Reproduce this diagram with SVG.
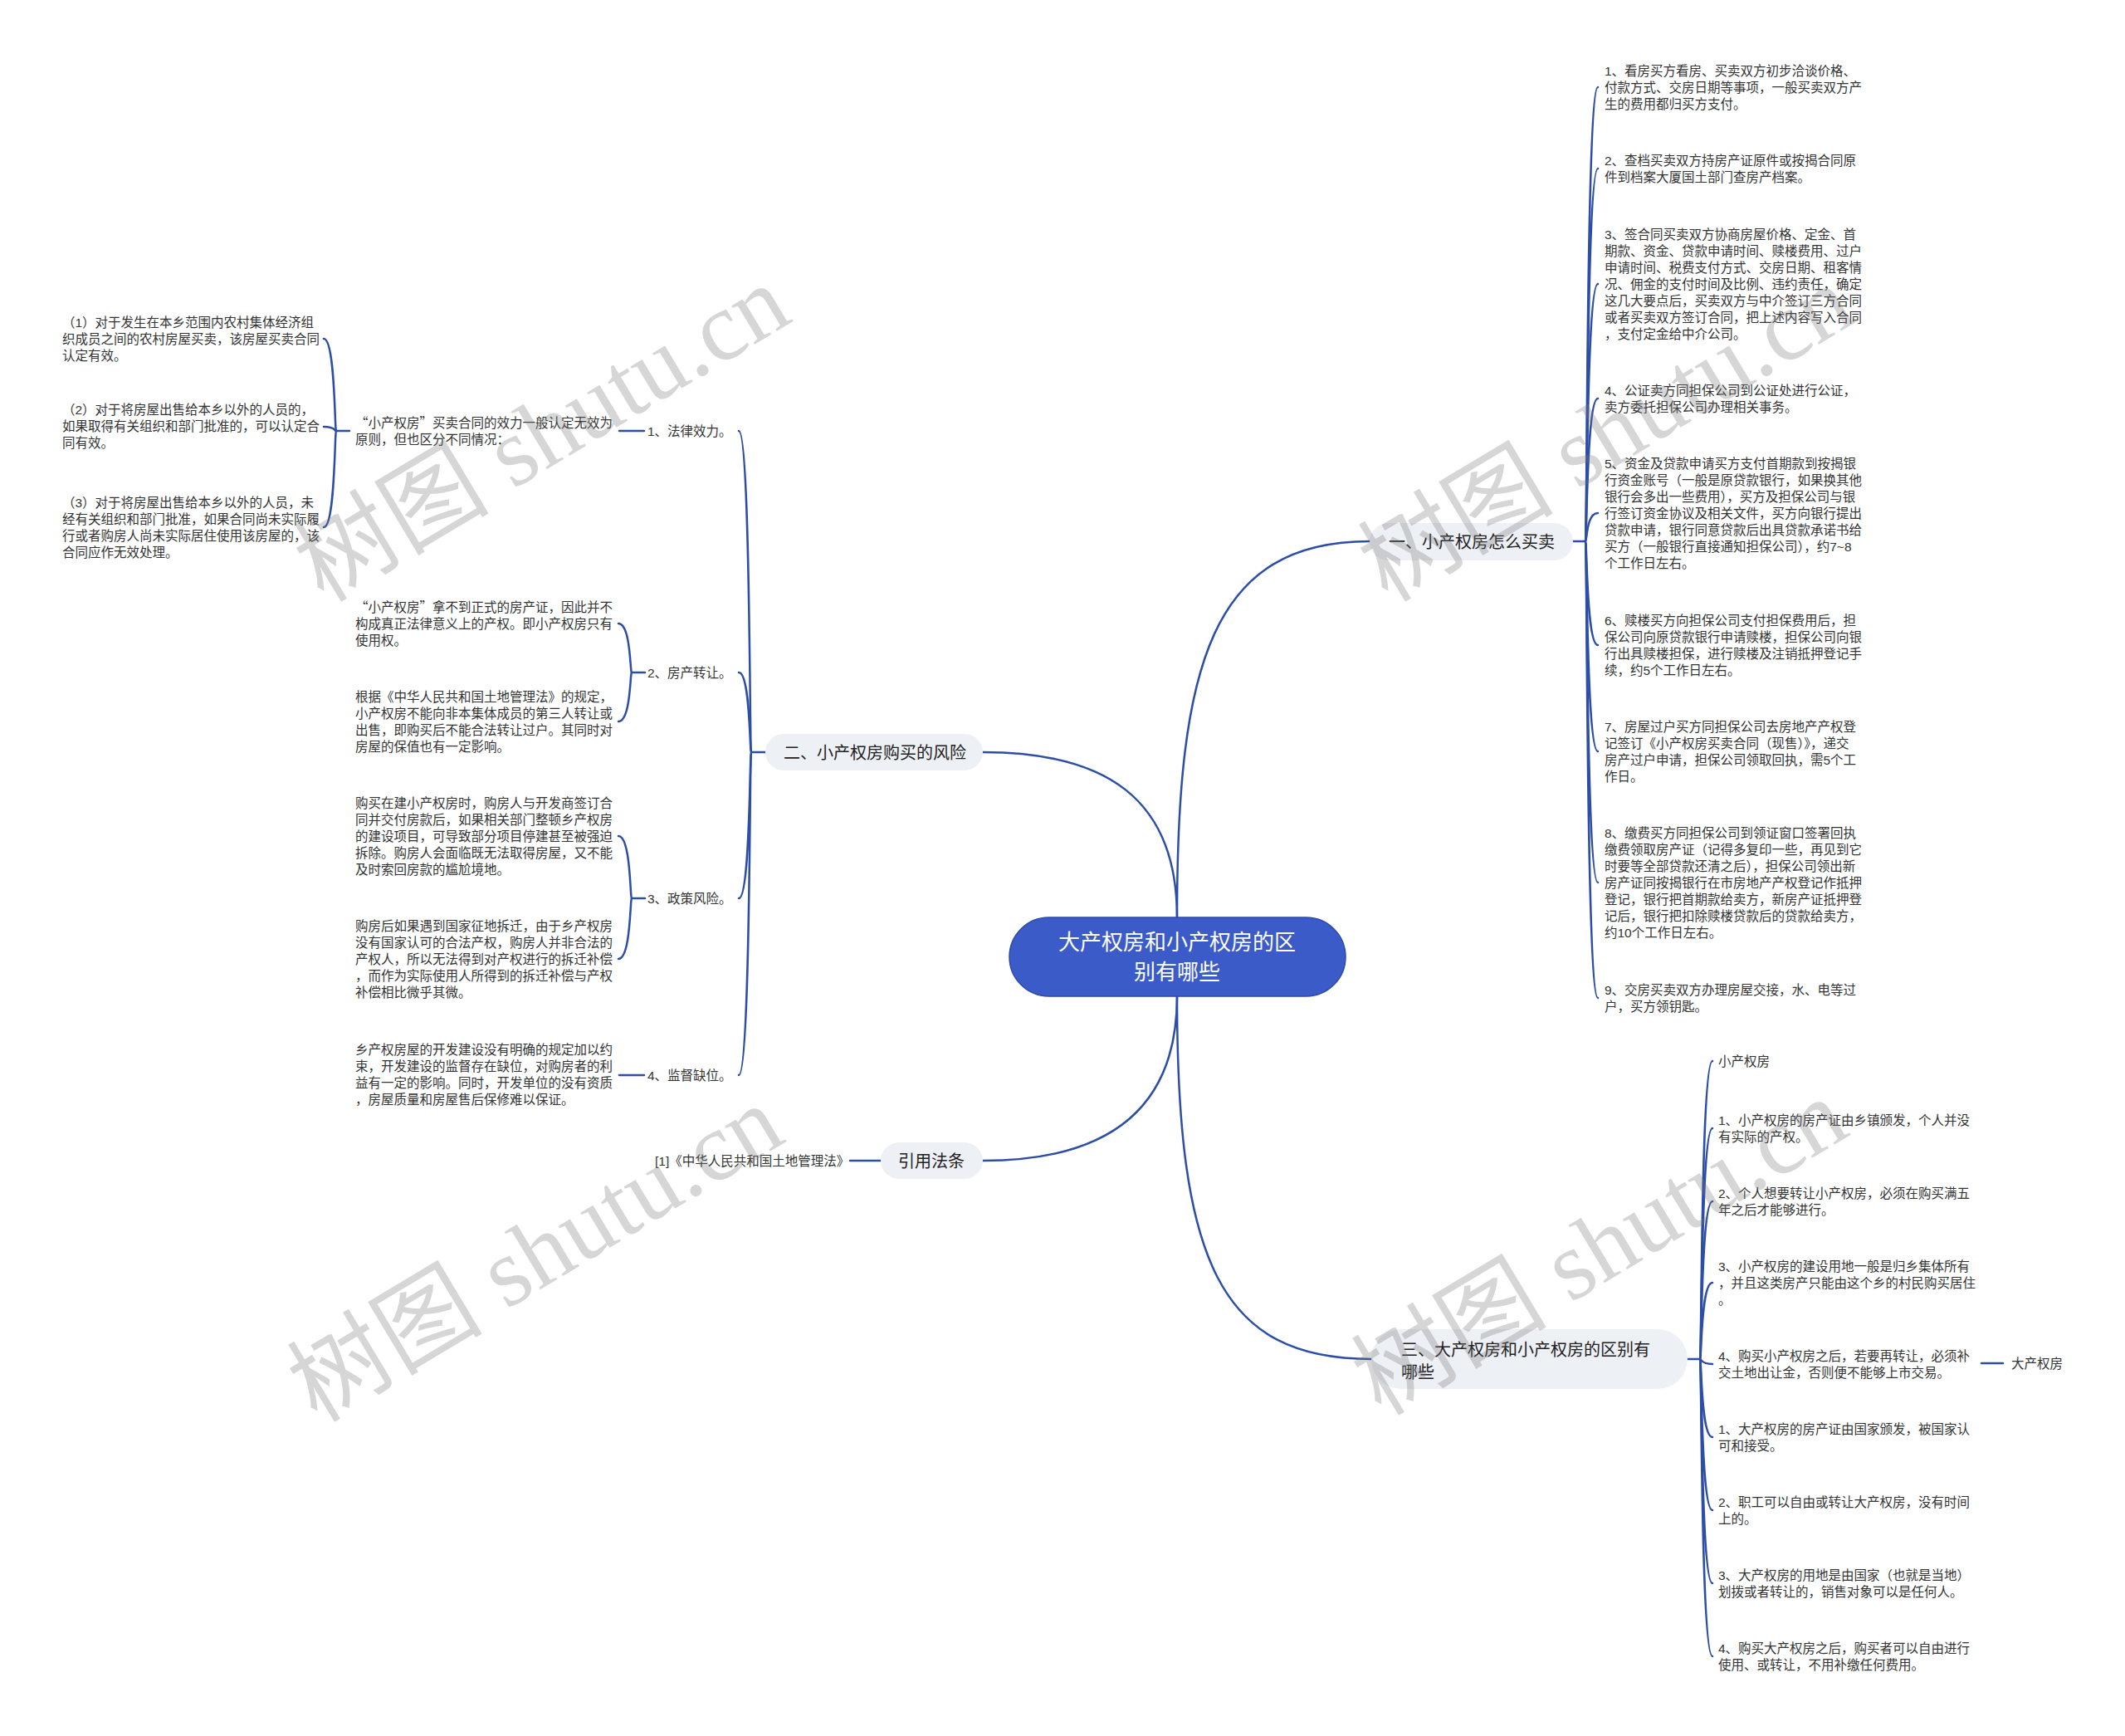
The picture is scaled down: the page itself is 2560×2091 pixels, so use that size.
<svg xmlns="http://www.w3.org/2000/svg" width="2560" height="2091" viewBox="0 0 2560 2091">
<style>
.t{font-family:"Liberation Sans","Noto Sans CJK SC",sans-serif;font-size:15.5px;fill:#333}
.q{font-family:"Noto Sans CJK SC",sans-serif}
.b{font-family:"Liberation Sans","Noto Sans CJK SC",sans-serif;font-size:20px;fill:#222}
.c{font-family:"Liberation Sans","Noto Sans CJK SC",sans-serif;font-size:26px;fill:#fff}
.pill{fill:#edf0f5}
.ln{fill:none;stroke:#2d4ea6;stroke-width:2.5;stroke-linecap:round}
.wm{font-family:"Liberation Serif","Noto Sans CJK SC",serif;font-size:118px;fill:#777;fill-opacity:0.3}
</style>
<rect width="2560" height="2091" fill="#fff"/>
<g id="connectors" class="ln">
<path d="M1418,1105 C1418,800 1460,652 1650,652"/>
<path d="M1418,1105 C1418,960 1330,906 1184,906"/>
<path d="M1418,1200 C1418,1340 1330,1398 1184,1398"/>
<path d="M1418,1200 C1418,1520 1470,1637 1652,1637"/>
<path d="M1895,652 H1910"/>
<path d="M1910,652 C1912,652 1911,105 1925,105"/>
<path d="M1910,652 C1912,652 1911,203 1925,203"/>
<path d="M1910,652 C1912,652 1911,342 1925,342"/>
<path d="M1910,652 C1912,652 1911,480 1925,480"/>
<path d="M1910,652 C1912,652 1911,618 1925,618"/>
<path d="M1910,652 C1912,652 1911,777 1925,777"/>
<path d="M1910,652 C1912,652 1911,905 1925,905"/>
<path d="M1910,652 C1912,652 1911,1063 1925,1063"/>
<path d="M1910,652 C1912,652 1911,1202 1925,1202"/>
<path d="M922,906 H905"/>
<path d="M905,906 C903,906 904,519 890,519"/>
<path d="M905,906 C903,906 904,810 890,810"/>
<path d="M905,906 C903,906 904,1082 890,1082"/>
<path d="M905,906 C903,906 904,1295 890,1295"/>
<path d="M1061,1398 H1024"/>
<path d="M2033,1637 H2048"/>
<path d="M2048,1637 C2050,1637 2049,1278 2063,1278"/>
<path d="M2048,1637 C2050,1637 2049,1359 2063,1359"/>
<path d="M2048,1637 C2050,1637 2049,1447 2063,1447"/>
<path d="M2048,1637 C2050,1637 2049,1545 2063,1545"/>
<path d="M2048,1637 C2050,1637 2049,1643 2063,1643"/>
<path d="M2048,1637 C2050,1637 2049,1731 2063,1731"/>
<path d="M2048,1637 C2050,1637 2049,1819 2063,1819"/>
<path d="M2048,1637 C2050,1637 2049,1907 2063,1907"/>
<path d="M2048,1637 C2050,1637 2049,1995 2063,1995"/>
<path d="M2387,1642 H2413"/>
<path d="M776,519 H746"/>
<path d="M777,810 H761"/>
<path d="M761,810 C759,810 760,751 745,751"/>
<path d="M761,810 C759,810 760,869 745,869"/>
<path d="M777,1082 H761"/>
<path d="M761,1082 C759,1082 760,1007 745,1007"/>
<path d="M761,1082 C759,1082 760,1155 745,1155"/>
<path d="M776,1295 H746"/>
<path d="M421,519 H405"/>
<path d="M405,519 C403,519 404,408 390,408"/>
<path d="M405,519 C403,519 404,514 390,514"/>
<path d="M405,519 C403,519 404,635 390,635"/>
</g>
<g id="root">
<rect x="1216" y="1105" width="405" height="95" rx="47.5" fill="#3b5bc8" stroke="#2e4aa8" stroke-width="1.5"/>
<text class="c" text-anchor="middle"><tspan x="1418" y="1144">大产权房和小产权房的区</tspan><tspan x="1418" y="1180">别有哪些</tspan></text>
</g>
<g id="b1">
<rect class="pill" x="1650" y="630" width="245" height="45" rx="22.5"/>
<text class="b" x="1673" y="659.5">一、小产权房怎么买卖</text>
</g>
<g id="b1-1"><text class="t"><tspan x="1933" y="91">1、看房买方看房、买卖双方初步洽谈价格、</tspan><tspan x="1933" y="111">付款方式、交房日期等事项，一般买卖双方产</tspan><tspan x="1933" y="131">生的费用都归买方支付。</tspan></text></g>
<g id="b1-2"><text class="t"><tspan x="1933" y="199">2、查档买卖双方持房产证原件或按揭合同原</tspan><tspan x="1933" y="219">件到档案大厦国土部门查房产档案。</tspan></text></g>
<g id="b1-3"><text class="t"><tspan x="1933" y="288">3、签合同买卖双方协商房屋价格、定金、首</tspan><tspan x="1933" y="308">期款、资金、贷款申请时间、赎楼费用、过户</tspan><tspan x="1933" y="328">申请时间、税费支付方式、交房日期、租客情</tspan><tspan x="1933" y="348">况、佣金的支付时间及比例、违约责任，确定</tspan><tspan x="1933" y="368">这几大要点后，买卖双方与中介签订三方合同</tspan><tspan x="1933" y="388">或者买卖双方签订合同，把上述内容写入合同</tspan><tspan x="1933" y="408">，支付定金给中介公司。</tspan></text></g>
<g id="b1-4"><text class="t"><tspan x="1933" y="476">4、公证卖方同担保公司到公证处进行公证，</tspan><tspan x="1933" y="496">卖方委托担保公司办理相关事务。</tspan></text></g>
<g id="b1-5"><text class="t"><tspan x="1933" y="564">5、资金及贷款申请买方支付首期款到按揭银</tspan><tspan x="1933" y="584">行资金账号（一般是原贷款银行，如果换其他</tspan><tspan x="1933" y="604">银行会多出一些费用），买方及担保公司与银</tspan><tspan x="1933" y="624">行签订资金协议及相关文件，买方向银行提出</tspan><tspan x="1933" y="644">贷款申请，银行同意贷款后出具贷款承诺书给</tspan><tspan x="1933" y="664">买方（一般银行直接通知担保公司），约7~8</tspan><tspan x="1933" y="684">个工作日左右。</tspan></text></g>
<g id="b1-6"><text class="t"><tspan x="1933" y="753">6、赎楼买方向担保公司支付担保费用后，担</tspan><tspan x="1933" y="773">保公司向原贷款银行申请赎楼，担保公司向银</tspan><tspan x="1933" y="793">行出具赎楼担保，进行赎楼及注销抵押登记手</tspan><tspan x="1933" y="813">续，约5个工作日左右。</tspan></text></g>
<g id="b1-7"><text class="t"><tspan x="1933" y="881">7、房屋过户买方同担保公司去房地产产权登</tspan><tspan x="1933" y="901">记签订《小产权房买卖合同（现售）》，递交</tspan><tspan x="1933" y="921">房产过户申请，担保公司领取回执，需5个工</tspan><tspan x="1933" y="941">作日。</tspan></text></g>
<g id="b1-8"><text class="t"><tspan x="1933" y="1009">8、缴费买方同担保公司到领证窗口签署回执</tspan><tspan x="1933" y="1029">缴费领取房产证（记得多复印一些，再见到它</tspan><tspan x="1933" y="1049">时要等全部贷款还清之后），担保公司领出新</tspan><tspan x="1933" y="1069">房产证同按揭银行在市房地产产权登记作抵押</tspan><tspan x="1933" y="1089">登记，银行把首期款给卖方，新房产证抵押登</tspan><tspan x="1933" y="1109">记后，银行把扣除赎楼贷款后的贷款给卖方，</tspan><tspan x="1933" y="1129">约10个工作日左右。</tspan></text></g>
<g id="b1-9"><text class="t"><tspan x="1933" y="1198">9、交房买卖双方办理房屋交接，水、电等过</tspan><tspan x="1933" y="1218">户，买方领钥匙。</tspan></text></g>
<g id="b2">
<rect class="pill" x="922" y="884" width="262" height="44" rx="22"/>
<text class="b" x="944" y="913.5">二、小产权房购买的风险</text>
</g>
<g id="b2-1"><text class="t" x="780" y="525">1、法律效力。</text></g>
<g id="b2-1-1"><text class="t"><tspan x="428" y="515"><tspan class="q">“</tspan>小产权房<tspan class="q">”</tspan>买卖合同的效力一般认定无效为</tspan><tspan x="428" y="535">原则，但也区分不同情况：</tspan></text></g>
<g id="b2-1-1-1"><text class="t"><tspan x="75" y="394">（1）对于发生在本乡范围内农村集体经济组</tspan><tspan x="75" y="414">织成员之间的农村房屋买卖，该房屋买卖合同</tspan><tspan x="75" y="434">认定有效。</tspan></text></g>
<g id="b2-1-1-2"><text class="t"><tspan x="75" y="499">（2）对于将房屋出售给本乡以外的人员的，</tspan><tspan x="75" y="519">如果取得有关组织和部门批准的，可以认定合</tspan><tspan x="75" y="539">同有效。</tspan></text></g>
<g id="b2-1-1-3"><text class="t"><tspan x="75" y="611">（3）对于将房屋出售给本乡以外的人员，未</tspan><tspan x="75" y="631">经有关组织和部门批准，如果合同尚未实际履</tspan><tspan x="75" y="651">行或者购房人尚未实际居住使用该房屋的，该</tspan><tspan x="75" y="671">合同应作无效处理。</tspan></text></g>
<g id="b2-2"><text class="t" x="780" y="816">2、房产转让。</text></g>
<g id="b2-2-1"><text class="t"><tspan x="428" y="737"><tspan class="q">“</tspan>小产权房<tspan class="q">”</tspan>拿不到正式的房产证，因此并不</tspan><tspan x="428" y="757">构成真正法律意义上的产权。即小产权房只有</tspan><tspan x="428" y="777">使用权。</tspan></text></g>
<g id="b2-2-2"><text class="t"><tspan x="428" y="845">根据《中华人民共和国土地管理法》的规定，</tspan><tspan x="428" y="865">小产权房不能向非本集体成员的第三人转让或</tspan><tspan x="428" y="885">出售，即购买后不能合法转让过户。其同时对</tspan><tspan x="428" y="905">房屋的保值也有一定影响。</tspan></text></g>
<g id="b2-3"><text class="t" x="780" y="1088">3、政策风险。</text></g>
<g id="b2-3-1"><text class="t"><tspan x="428" y="973">购买在建小产权房时，购房人与开发商签订合</tspan><tspan x="428" y="993">同并交付房款后，如果相关部门整顿乡产权房</tspan><tspan x="428" y="1013">的建设项目，可导致部分项目停建甚至被强迫</tspan><tspan x="428" y="1033">拆除。购房人会面临既无法取得房屋，又不能</tspan><tspan x="428" y="1053">及时索回房款的尴尬境地。</tspan></text></g>
<g id="b2-3-2"><text class="t"><tspan x="428" y="1121">购房后如果遇到国家征地拆迁，由于乡产权房</tspan><tspan x="428" y="1141">没有国家认可的合法产权，购房人并非合法的</tspan><tspan x="428" y="1161">产权人，所以无法得到对产权进行的拆迁补偿</tspan><tspan x="428" y="1181">，而作为实际使用人所得到的拆迁补偿与产权</tspan><tspan x="428" y="1201">补偿相比微乎其微。</tspan></text></g>
<g id="b2-4"><text class="t" x="780" y="1301">4、监督缺位。</text></g>
<g id="b2-4-1"><text class="t"><tspan x="428" y="1270">乡产权房屋的开发建设没有明确的规定加以约</tspan><tspan x="428" y="1290">束，开发建设的监督存在缺位，对购房者的利</tspan><tspan x="428" y="1310">益有一定的影响。同时，开发单位的没有资质</tspan><tspan x="428" y="1330">，房屋质量和房屋售后保修难以保证。</tspan></text></g>
<g id="b4">
<rect class="pill" x="1061" y="1376" width="123" height="44" rx="22"/>
<text class="b" x="1082" y="1405.5">引用法条</text>
</g>
<g id="b4-1"><text class="t" x="789" y="1404">[1]《中华人民共和国土地管理法》</text></g>
<g id="b3">
<rect class="pill" x="1652" y="1601" width="381" height="72" rx="36"/>
<text class="b"><tspan x="1688" y="1632.5">三、大产权房和小产权房的区别有</tspan><tspan x="1688" y="1659.5">哪些</tspan></text>
</g>
<g id="b3-0"><text class="t" x="2070" y="1284">小产权房</text></g>
<g id="b3-1"><text class="t"><tspan x="2070" y="1355">1、小产权房的房产证由乡镇颁发，个人并没</tspan><tspan x="2070" y="1375">有实际的产权。</tspan></text></g>
<g id="b3-2"><text class="t"><tspan x="2070" y="1443">2、个人想要转让小产权房，必须在购买满五</tspan><tspan x="2070" y="1463">年之后才能够进行。</tspan></text></g>
<g id="b3-3"><text class="t"><tspan x="2070" y="1531">3、小产权房的建设用地一般是归乡集体所有</tspan><tspan x="2070" y="1551">，并且这类房产只能由这个乡的村民购买居住</tspan><tspan x="2070" y="1571">。</tspan></text></g>
<g id="b3-4"><text class="t"><tspan x="2070" y="1639">4、购买小产权房之后，若要再转让，必须补</tspan><tspan x="2070" y="1659">交土地出让金，否则便不能够上市交易。</tspan></text></g>
<g id="b3-4-1"><text class="t" x="2423" y="1648">大产权房</text></g>
<g id="b3-5"><text class="t"><tspan x="2070" y="1727">1、大产权房的房产证由国家颁发，被国家认</tspan><tspan x="2070" y="1747">可和接受。</tspan></text></g>
<g id="b3-6"><text class="t"><tspan x="2070" y="1815">2、职工可以自由或转让大产权房，没有时间</tspan><tspan x="2070" y="1835">上的。</tspan></text></g>
<g id="b3-7"><text class="t"><tspan x="2070" y="1903">3、大产权房的用地是由国家（也就是当地）</tspan><tspan x="2070" y="1923">划拨或者转让的，销售对象可以是任何人。</tspan></text></g>
<g id="b3-8"><text class="t"><tspan x="2070" y="1991">4、购买大产权房之后，购买者可以自由进行</tspan><tspan x="2070" y="2011">使用、或转让，不用补缴任何费用。</tspan></text></g>
<g id="watermark" class="wm" text-anchor="middle">
<text transform="translate(653,522) rotate(-31)" y="40">树图 shutu.cn</text>
<text transform="translate(1935,522) rotate(-31)" y="40">树图 shutu.cn</text>
<text transform="translate(645,1510) rotate(-31)" y="40">树图 shutu.cn</text>
<text transform="translate(1927,1502) rotate(-31)" y="40">树图 shutu.cn</text>
</g>
</svg>
